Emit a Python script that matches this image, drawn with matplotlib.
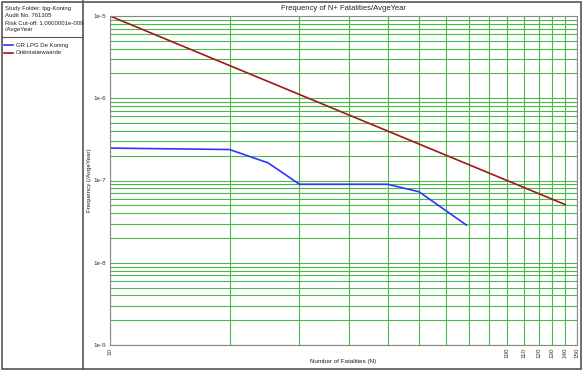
import matplotlib
matplotlib.use("Agg")
import matplotlib.pyplot as plt
from matplotlib.lines import Line2D
from matplotlib.patches import Rectangle
from matplotlib.ticker import LogLocator, NullFormatter, FixedLocator, FixedFormatter

plt.rcParams['font.family'] = ['Liberation Sans', 'DejaVu Sans']

# FN curve of the study
gr_n = [10, 12, 15, 20, 25, 30, 50, 60, 79]
gr_f = [2.48e-7, 2.45e-7, 2.42e-7, 2.38e-7, 1.64e-7, 9.0e-8, 9.0e-8, 7.3e-8, 2.87e-8]

# orientation value line
ow_n = [10, 140]
ow_f = [1e-5, 5.1e-8]

x_grid = [10, 20, 30, 40, 50, 60, 70, 80, 90, 100, 110, 120, 130, 140, 150]
x_labels = ['10', '', '', '', '', '', '', '', '', '100', '110', '120', '130', '140', '150']
y_ticks = [1e-9, 1e-8, 1e-7, 1e-6, 1e-5]
y_labels = ['1e-9', '1e-8', '1e-7', '1e-6', '1e-5']

info_lines = ['Study Folder: lpg-Koning', 'Audit No. 761305',
              'Risk Cut-off: 1,0000001e-009', '/AvgeYear']

W, H = 584, 372
fig = plt.figure(figsize=(W / 100, H / 100), dpi=100)

def fx(px):
    return px / W

def fy(py):
    return 1 - py / H

# frame around everything and the left info panel
border = '#555555'
fig.add_artist(Rectangle((fx(2), fy(369)), fx(579), 367 / H, fill=False,
                         edgecolor=border, lw=1.2, transform=fig.transFigure))
fig.add_artist(Line2D([fx(83), fx(83)], [fy(1), fy(369)], color=border, lw=1.2,
                      transform=fig.transFigure))
fig.add_artist(Line2D([fx(2), fx(83)], [fy(37), fy(37)], color=border, lw=0.8,
                      transform=fig.transFigure))

for i, t in enumerate(info_lines):
    fig.text(fx(5), fy(8.5 + 7 * i), t, fontsize=4.3, va='center', ha='left', color='#222222')

legend_items = [('GR LPG De Koning', '#3333ff'), ('Oriëntatiewaarde', '#a01818')]
for i, (t, c) in enumerate(legend_items):
    yy = fy(45 + 8 * i)
    fig.add_artist(Line2D([fx(4), fx(13)], [yy, yy], color=c, lw=1.2,
                          transform=fig.transFigure))
    fig.text(fx(16), yy, t, fontsize=4.3, va='center', ha='left', color='#222222')

ax = fig.add_axes([fx(110), fy(345), (577 - 110) / W, (345 - 16) / H])
ax.set_xscale('log')
ax.set_yscale('log')
ax.set_xlim(10, 150)
ax.set_ylim(1e-9, 1e-5)

ax.xaxis.set_major_locator(FixedLocator(x_grid))
ax.xaxis.set_major_formatter(FixedFormatter(x_labels))
ax.xaxis.set_minor_locator(FixedLocator([]))
ax.yaxis.set_major_locator(FixedLocator(y_ticks))
ax.yaxis.set_major_formatter(FixedFormatter(y_labels))
ax.yaxis.set_minor_locator(LogLocator(base=10, subs=range(2, 10)))
ax.yaxis.set_minor_formatter(NullFormatter())

ax.grid(True, which='both', axis='both', color='#4cb84c', lw=0.8)
ax.tick_params(which='both', length=0, labelsize=4.5, colors='#333333')
ax.tick_params(axis='x', pad=2)
ax.tick_params(axis='y', pad=3)
for lab in ax.get_xticklabels():
    lab.set_rotation(90)
for s in ax.spines.values():
    s.set_color('#888888')
    s.set_linewidth(0.8)

ax.plot(ow_n, ow_f, color='#a01818', lw=1.2)
ax.plot(gr_n, gr_f, color='#3333ff', lw=1.2)

fig.text(fx(343), fy(9), 'Frequency of N+ Fatalities/AvgeYear', fontsize=5.5,
         ha='center', va='center', color='#222222')
fig.text(fx(343), fy(362), 'Number of Fatalities (N)', fontsize=4.5,
         ha='center', va='center', color='#222222')
fig.text(fx(90), fy(180), 'Frequency (/AvgeYear)', fontsize=4.5, rotation=90,
         ha='center', va='center', color='#222222')

fig.savefig('out.png', dpi=100)
